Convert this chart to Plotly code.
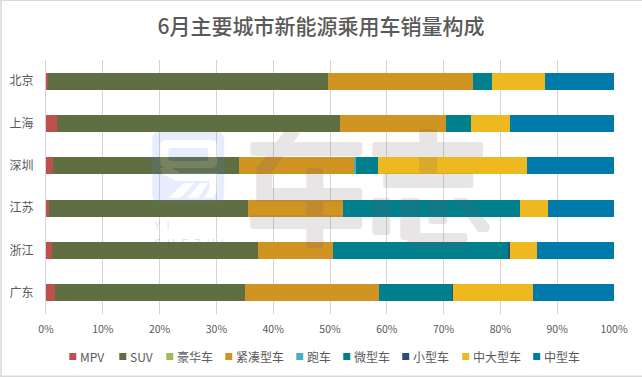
import plotly.graph_objects as go

cities = ["北京", "上海", "深圳", "江苏", "浙江", "广东"]
mpv = [0.3, 2.0, 1.3, 0.6, 1.1, 1.6]
suv = [49.4, 49.8, 32.7, 35.0, 36.3, 33.5]
luxury = [0, 0, 0, 0, 0, 0]
compact = [25.5, 18.7, 20.3, 16.7, 13.2, 23.6]
sports = [0, 0, 0.2, 0, 0, 0]
micro = [3.4, 4.4, 4.0, 31.2, 30.9, 12.8]
small = [0, 0, 0, 0, 0.2, 0.1]
midlarge = [9.3, 6.8, 26.2, 4.9, 4.8, 14.2]
mid = [12.1, 18.3, 15.3, 11.6, 13.5, 14.2]

series = [
    ("MPV", mpv, "#c0504d"),
    ("SUV", suv, "#5f6e43"),
    ("豪华车", luxury, "#9bbb59"),
    ("紧凑型车", compact, "#d09423"),
    ("跑车", sports, "#4bacc6"),
    ("微型车", micro, "#007f8c"),
    ("小型车", small, "#2c4d75"),
    ("中大型车", midlarge, "#eeb820"),
    ("中型车", mid, "#0079ab"),
]
legend_x = [69, 119, 166, 225, 296, 343, 402, 462, 533]

W, H = 642, 377
L, R, T, B = 45.7, 613.8, 60, 314
FONT = "Noto Sans CJK SC"
GREY = "#595959"


def px(x):
    return (x - L) / (R - L)


def py(y):
    return (B - y) / (B - T)


def poly(points):
    return "M" + " L".join(f"{px(x):.5f},{py(y):.5f}" for x, y in points) + " Z"


def rrect(x0, y0, x1, y1, r=3):
    p = lambda x, y: f"{px(x):.5f},{py(y):.5f}"
    return (f"M{p(x0 + r, y0)} L{p(x1 - r, y0)} Q{p(x1, y0)} {p(x1, y0 + r)} "
            f"L{p(x1, y1 - r)} Q{p(x1, y1)} {p(x1 - r, y1)} L{p(x0 + r, y1)} "
            f"Q{p(x0, y1)} {p(x0, y1 - r)} L{p(x0, y0 + r)} Q{p(x0, y0)} {p(x0 + r, y0)} Z")


fig = go.Figure()
for name, vals, col in series:
    fig.add_bar(y=cities, x=vals, name=name, orientation="h", marker=dict(color=col, line_width=0))

shapes, notes = [], []
for (name, _, col), lx in zip(series, legend_x):
    shapes.append(dict(type="rect", xref="paper", yref="paper", layer="above",
                       x0=px(lx), x1=px(lx + 7), y0=py(360), y1=py(353),
                       fillcolor=col, line_width=0))
    notes.append(dict(text=name, xref="paper", yref="paper", showarrow=False,
                      x=px(lx + 11), y=py(356.5), xanchor="left", yanchor="middle",
                      xshift=-2,
                      font=dict(size=12, color=GREY, family=FONT)))

for x0, y0, x1, y1 in [(0, 0, W, 1), (0, 0, 1.5, H), (0, 375.5, W, 377)]:
    shapes.append(dict(type="rect", xref="paper", yref="paper", layer="below",
                       x0=px(x0), x1=px(x1), y0=py(y0), y1=py(y1),
                       fillcolor="#d9d9d9", line_width=0))

# watermark: large rounded strokes, one union path
wm = [
    rrect(250, 142, 362, 156),
    poly([(285, 130), (300, 133), (272, 172), (272, 188), (256, 192), (256, 168)]),
    rrect(256, 188, 362, 202),
    rrect(306, 168, 323, 248),
    rrect(250, 215, 362, 229),
    rrect(372, 142, 483, 157),
    rrect(419, 129, 437, 173),
    rrect(383, 173, 473, 188),
    rrect(372, 198, 390, 235),
    rrect(400, 198, 420, 240),
    rrect(407, 233, 467, 248),
    rrect(428, 200, 447, 224),
    poly([(453, 198), (467, 198), (490, 226), (488, 232), (478, 232)]),
]
shapes.append(dict(type="path", xref="paper", yref="paper", layer="above", line_width=0,
                   path=" ".join(wm), fillrule="nonzero", fillcolor="rgba(110,95,105,0.16)"))

# logo: tinted tile with the glyph cut out of it
glyph = [
    rrect(160, 140, 217, 168, 6),
    rrect(168, 148, 208, 161, 3),
    poly([(160, 168), (172, 168), (180, 173), (217, 173), (217, 190), (213, 198), (204, 198),
          (209, 189), (209, 181), (176, 181), (162, 174)]),
    poly([(184, 183), (194, 183), (180, 198), (168, 198)]),
    poly([(200, 183), (208, 183), (198, 198), (187, 198)]),
]
shapes.append(dict(type="path", xref="paper", yref="paper", layer="above", line_width=0,
                   path=rrect(152, 132, 224, 202, 7) + " " + " ".join(glyph), fillrule="evenodd",
                   fillcolor="rgba(90,125,250,0.14)"))
shapes.append(dict(type="path", xref="paper", yref="paper", layer="above", line_width=0,
                   path=" ".join(glyph), fillrule="evenodd", fillcolor="rgba(255,255,255,0.15)"))

notes.append(dict(text="\u2002".join("CHEZHI"), xref="paper", yref="paper", showarrow=False,
                  x=px(188.5), y=py(242.5), xanchor="center", yanchor="middle",
                  font=dict(size=11.5, color="rgba(90,90,90,0.2)", family=FONT)))
notes.append(dict(text="Y\u2002I", xref="paper", yref="paper", showarrow=False,
                  x=px(161), y=py(224), xanchor="center", yanchor="middle",
                  font=dict(size=12, color="rgba(110,140,240,0.25)", family=FONT)))

fig.update_layout(
    width=W, height=H,
    margin=dict(l=L, r=W - R, t=T, b=H - B, autoexpand=False),
    barmode="stack", bargap=0.6,
    paper_bgcolor="white", plot_bgcolor="white",
    showlegend=False,
    font=dict(family=FONT, color=GREY, size=12),
    title=dict(text="6月主要城市新能源乘用车销量构成", x=321 / W, xanchor="center",
               y=1 - 27 / H, yanchor="middle",
               font=dict(size=21, color=GREY, family=FONT, weight=500)),
    xaxis=dict(range=[0, 100], tickvals=list(range(0, 101, 10)),
               ticktext=[f"{v}%" for v in range(0, 101, 10)],
               showgrid=True, gridcolor="#d4d4d4", gridwidth=1, zeroline=False,
               showline=False, ticks="", tickfont=dict(size=10.5, color=GREY), ticklabelstandoff=7),
    yaxis=dict(autorange="reversed", showgrid=False, zeroline=False, showline=True,
               linecolor="#d4d4d4", linewidth=1, ticks="", tickfont=dict(size=12, color=GREY),
               ticklabelstandoff=9),
    shapes=shapes, annotations=notes,
)
fig.write_html("out.html", config={"displayModeBar": False},
               post_script="document.body.style.margin='0';")
